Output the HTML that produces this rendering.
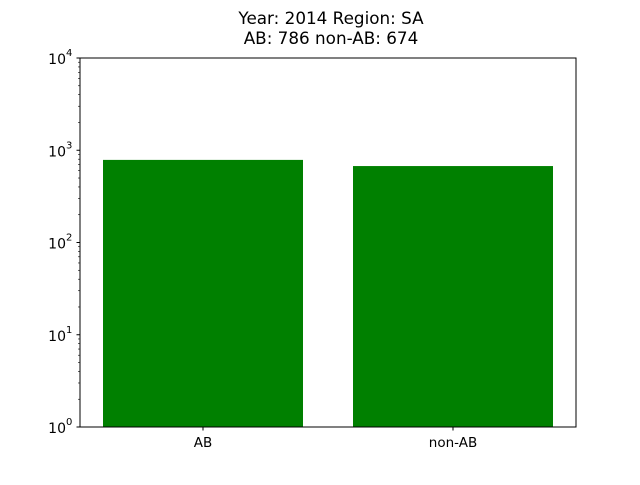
<!DOCTYPE html>
<html><head><meta charset="utf-8"><style>
body{margin:0;background:#fff}
text{font-family:"DejaVu Sans","Liberation Sans",sans-serif;fill:#000}
</style></head><body>
<svg id="chart" width="640" height="480" xmlns="http://www.w3.org/2000/svg">
<rect width="640" height="480" fill="#fff"/>
<text x="331" y="24" font-size="16.8" text-anchor="middle">Year: 2014 Region: SA</text>
<text x="331" y="44" font-size="16.8" text-anchor="middle">AB: 786 non-AB: 674</text>
<g id="bars"></g>
<g id="axes"></g>
<rect x="80" y="58" width="496" height="369" fill="none" stroke="#000" stroke-width="1"/>
</svg>
<script>
const categories = ["AB", "non-AB"];
const values = [786, 674];
const yTickExps = [0, 1, 2, 3, 4];

const L = 80, R = 576, T = 58, B = 427;
const NS = "http://www.w3.org/2000/svg";
const yMinE = 0, yMaxE = 4;
function y(v){ return B - (Math.log10(v) - yMinE) / (yMaxE - yMinE) * (B - T); }
const xMin = -0.492, xMax = 1.492;
const unit = (R - L) / (xMax - xMin);
function x(i){ return L + (i - xMin) * unit; }
const bw = unit * 0.8;
const bars = document.getElementById('bars');
const axes = document.getElementById('axes');
function mk(tag, attrs, parent){ const e = document.createElementNS(NS, tag); for (const k in attrs) e.setAttribute(k, attrs[k]); parent.appendChild(e); return e; }

values.forEach((v, i) => {
  const r = mk('rect', {x: x(i) - bw/2, y: y(v), width: bw, height: y(1) - y(v), fill: '#008000'}, bars);
  
  
  const t = mk('line', {x1: x(i), x2: x(i), y1: B, y2: B + 3.5, stroke: '#000'}, axes);
  
  
  const lb = mk('text', {x: x(i), y: B + 20, 'font-size': 13.5, 'text-anchor': 'middle'}, axes);
  lb.textContent = categories[i];
  
  
});

yTickExps.forEach((e) => {
  const yy = y(Math.pow(10, e));
  const t = mk('line', {x1: L - 3.5, x2: L, y1: yy, y2: yy, stroke: '#000'}, axes);
  
  
  const lb = mk('text', {x: L - 14, y: yy + 6, 'font-size': 14, 'text-anchor': 'end'}, axes);
  lb.textContent = '10';
  
  
  const sp = mk('text', {x: L - 14, y: yy - 2, 'font-size': 10}, axes);
  sp.textContent = String(e);
  
  
  if (e < yMaxE) {
    for (let m = 2; m <= 9; m++) {
      const my = y(m * Math.pow(10, e));
      const mt = mk('line', {x1: L - 2, x2: L, y1: my, y2: my, stroke: '#000', 'stroke-width': 0.6}, axes);
      
      
    }
  }
});
</script>
</body></html>
